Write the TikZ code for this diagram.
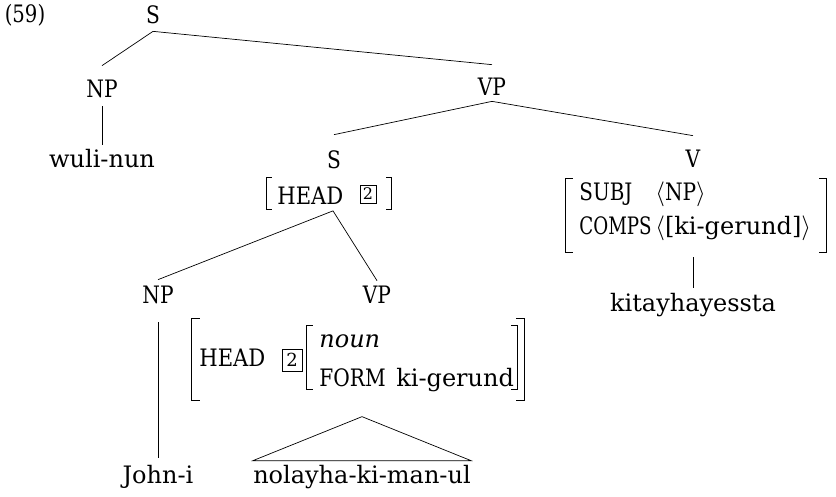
\documentclass[tikz,border=0pt]{standalone}
\usepackage{fontspec}
\usepackage{graphicx}
\setmainfont{DejaVu Serif}
\usetikzlibrary{calc}
\newcommand\cf[2][0.84]{\scalebox{#1}[1]{#2}}
\newcommand\avmbr[2]{%
  \draw ([xshift=#2]#1.north west) -- (#1.north west) -- (#1.south west) -- ([xshift=#2]#1.south west);
  \draw ([xshift=-#2]#1.north east) -- (#1.north east) -- (#1.south east) -- ([xshift=-#2]#1.south east);}
\begin{document}
\begin{tikzpicture}[x=1pt,y=-1pt,line width=0.7pt,
  lbl/.style={anchor=base,inner sep=0pt,text height=18pt,text depth=0pt,font=\fontsize{24}{29}\selectfont},
  brk/.style={inner sep=0pt,draw=none},
  tagb/.style={draw,line width=0.7pt,inner sep=0pt,minimum width=16pt,minimum height=18pt,font=\fontsize{16}{16}\selectfont}]
\useasboundingbox (0,0) rectangle (836,496);
% tree labels
\node[lbl] (num) at (25,22) {\cf[0.82]{(59)}};
\node[lbl] (s0) at (153,23) {\cf{S}};
\node[lbl] (np1) at (102,97) {\cf{NP}};
\node[lbl] (wuli) at (102,167) {wuli-nun};
\node[lbl] (vp1) at (492,95) {\cf{VP}};
\node[lbl] (s1) at (334,168) {\cf{S}};
\node[lbl] (v) at (693,167) {\cf{V}};
\node[lbl] (kita) at (693,311) {kitayhayessta};
\node[lbl] (np2) at (158,303) {\cf{NP}};
\node[lbl] (vp2) at (377,303) {\cf{VP}};
\node[lbl] (john) at (158,483) {John-i};
\node[lbl] (nol) at (362,483) {nolayha-ki-man-ul};
% AVM of lower S
\node[brk,minimum width=124pt,minimum height=31pt] (s1avm) at (329,193) {};
\node[lbl,anchor=base west] (s1head) at (277,204) {\cf[0.88]{HEAD}};
\node[tagb] (s1tag) at (368,194) {2};
\avmbr{s1avm}{5pt}
% AVM of V
\node[brk,minimum width=260pt,minimum height=73pt] (vavm) at (696,215.5) {};
\node[lbl,anchor=base west] (subj) at (579,200) {\cf[0.83]{SUBJ}};
\node[lbl,anchor=base west] (subjv) at (655,200) {$\langle$\cf{NP}$\rangle$};
\node[lbl,anchor=base west] (comps) at (579,234) {\cf[0.76]{COMPS}};
\node[lbl,anchor=base west] (compsv) at (655,234) {$\langle$[ki-gerund]$\rangle$};
\avmbr{vavm}{7pt}
% AVM of lower VP
\node[brk,minimum width=332pt,minimum height=81pt] (vp2avm) at (358,359.5) {};
\node[lbl,anchor=base west] (head2) at (199,366) {\cf[0.88]{HEAD}};
\node[tagb,minimum width=20pt,minimum height=22pt,font=\fontsize{18}{18}\selectfont] (tag2) at (292,360) {2};
\node[brk,minimum width=210pt,minimum height=63pt] (inavm) at (412,357) {};
\node[lbl,anchor=base west] (noun) at (319,347) {\itshape noun};
\node[lbl,anchor=base west] (form) at (319,386) {\cf{FORM}\hspace{3pt} ki-gerund};
\avmbr{vp2avm}{8pt}
\avmbr{inavm}{6pt}
% connectors
\draw ([yshift=-8pt]s0.south) -- ([yshift=13pt]np1.north);
\draw ([yshift=-8pt]s0.south) -- ([yshift=12pt]vp1.north);
\draw ([yshift=-9pt]np1.south) -- ([yshift=4pt]wuli.north);
\draw ([yshift=-6pt]vp1.south) -- ([yshift=15pt]s1.north);
\draw ([yshift=-6pt]vp1.south) -- ([yshift=13pt]v.north);
\draw ([xshift=4pt,yshift=-2pt]s1avm.south) -- ([yshift=5pt]np2.north);
\draw ([xshift=4pt,yshift=-2pt]s1avm.south) -- ([yshift=4pt]vp2.north);
\draw ([yshift=-19pt]np2.south) -- ([yshift=7pt]john.north);
\draw ($(vavm.south -| kita.north)+(0,5)$) -- ($(kita.north)+(0,-5)$);
\draw ([yshift=4pt]nol.north west) -- ([yshift=48pt]nol.north) -- ([yshift=4pt]nol.north east) -- cycle;
\end{tikzpicture}
\end{document}
